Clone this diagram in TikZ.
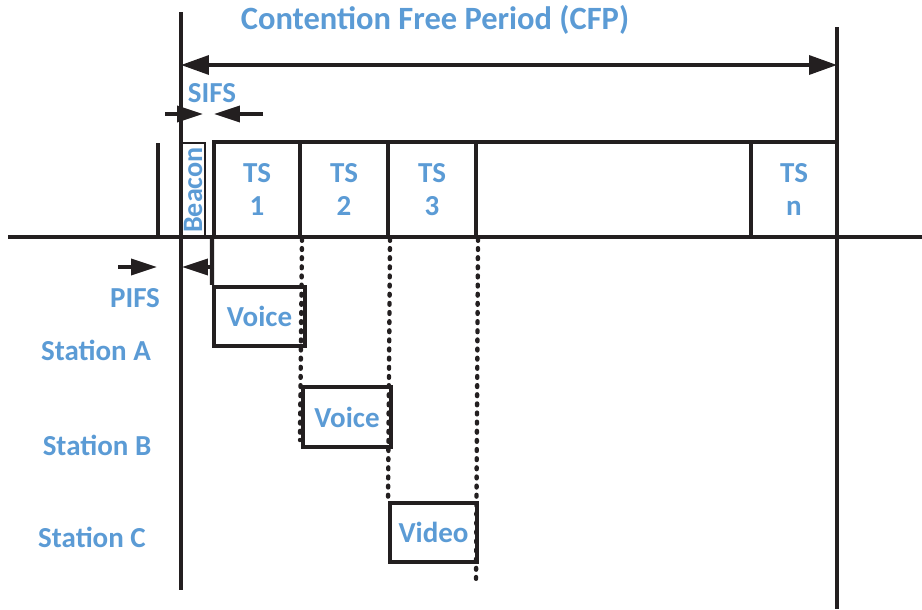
\documentclass[tikz,border=0pt]{standalone}
\usepackage{fontspec}
\setmainfont{Carlito}
\usetikzlibrary{arrows.meta}
\definecolor{lblblue}{RGB}{91,155,213}
\definecolor{linegray}{RGB}{35,31,32}

\begin{document}
\begin{tikzpicture}[x=0.02cm,y=-0.02cm, line width=2pt, draw=linegray,
  lbl/.style={text=lblblue, font=\fontsize{16.5}{19}\selectfont\bfseries},
  slotbox/.style={draw, line width=2.3pt, inner sep=0pt, minimum height=1.9cm, align=center, lbl},
  stabox/.style={draw, line width=2.3pt, inner sep=0pt, minimum height=1.18cm, lbl},
  dimtip/.style={-{Triangle[length=0.52cm,width=0.32cm]}},
  slotline/.style={line width=2.5pt, line cap=round, dash pattern=on 1pt off 4.2pt}]
\useasboundingbox (0,0) rectangle (922,609);
% frame of the period
\coordinate (cfptop) at (181,12);
\coordinate (cfpbot) at (181,590);
\coordinate (endtop) at (837,27);
\coordinate (endbot) at (837,609);
\coordinate (axisL) at (8,237);
\coordinate (axisR) at (922,237);
\draw (cfptop) -- (cfpbot);
\draw (endtop) -- (endbot);
\draw (axisL) -- (axisR);
\node[lbl, font=\fontsize{18.5}{22}\selectfont\bfseries] (title) at (435,20) {Contention Free Period (CFP)};
\coordinate (cfpa) at (181,65);
\coordinate (cfpb) at (837,65);
\draw[{Triangle[length=0.56cm,width=0.38cm]}-{Triangle[length=0.56cm,width=0.38cm]}] (cfpa) -- (cfpb);
% beacon and time slots
\coordinate (tickt) at (158,143);
\coordinate (tickb) at (158,237);
\draw (tickt) -- (tickb);
\node[draw, line width=1.6pt, rotate=90, inner sep=0pt, minimum width=1.88cm, minimum height=0.48cm, lbl, font=\fontsize{16}{18}\selectfont\bfseries] (beacon) at (193,190) {Beacon};
\node[slotbox, minimum width=1.72cm] (ts1) at (257,189.5) {TS\\1};
\node[slotbox, minimum width=1.76cm] (ts2) at (344,189.5) {TS\\2};
\node[slotbox, minimum width=1.76cm] (ts3) at (432,189.5) {TS\\3};
\node[slotbox, minimum width=5.5cm] (tsgap) at (613.5,189.5) {};
\node[slotbox, minimum width=1.72cm] (tsn) at (794,189.5) {TS\\n};
% SIFS and PIFS
\node[lbl] (sifs) at (212,93) {SIFS};
\coordinate (sifs1) at (165,114);
\coordinate (sifs2) at (203,114);
\coordinate (sifs3) at (263,114);
\coordinate (sifs4) at (214,114);
\draw[dimtip] (sifs1) -- (sifs2);
\draw[dimtip] (sifs3) -- (sifs4);
\node[lbl] (pifs) at (135,298) {PIFS};
\coordinate (pifs1) at (118,267);
\coordinate (pifs2) at (157,267);
\coordinate (pifs3) at (214,267);
\coordinate (pifs4) at (182,267);
\draw[dimtip] (pifs1) -- (pifs2);
\draw[dimtip] (pifs3) -- (pifs4);
% stations
\node[lbl] (staA) at (96,350) {Station A};
\node[lbl] (staB) at (97,445) {Station B};
\node[lbl] (staC) at (92,537) {Station C};
\node[stabox, minimum width=1.82cm] (voiceA) at (259.5,316.5) {Voice};
\node[stabox, minimum width=1.76cm, minimum height=1.2cm] (voiceB) at (347,417) {Voice};
\node[stabox, minimum width=1.74cm] (videoC) at (433.5,532.5) {Video};
\draw[line width=2.3pt] (ts1.south west) -- (voiceA.north west);
\coordinate (dotA) at (300,440);
\coordinate (dotB) at (388,503);
\coordinate (dotC) at (476,585);
\draw[slotline] (ts1.south east) -- (dotA);
\draw[slotline] (ts2.south east) -- (dotB);
\draw[slotline] (ts3.south east) -- (dotC);
\end{tikzpicture}
\end{document}
